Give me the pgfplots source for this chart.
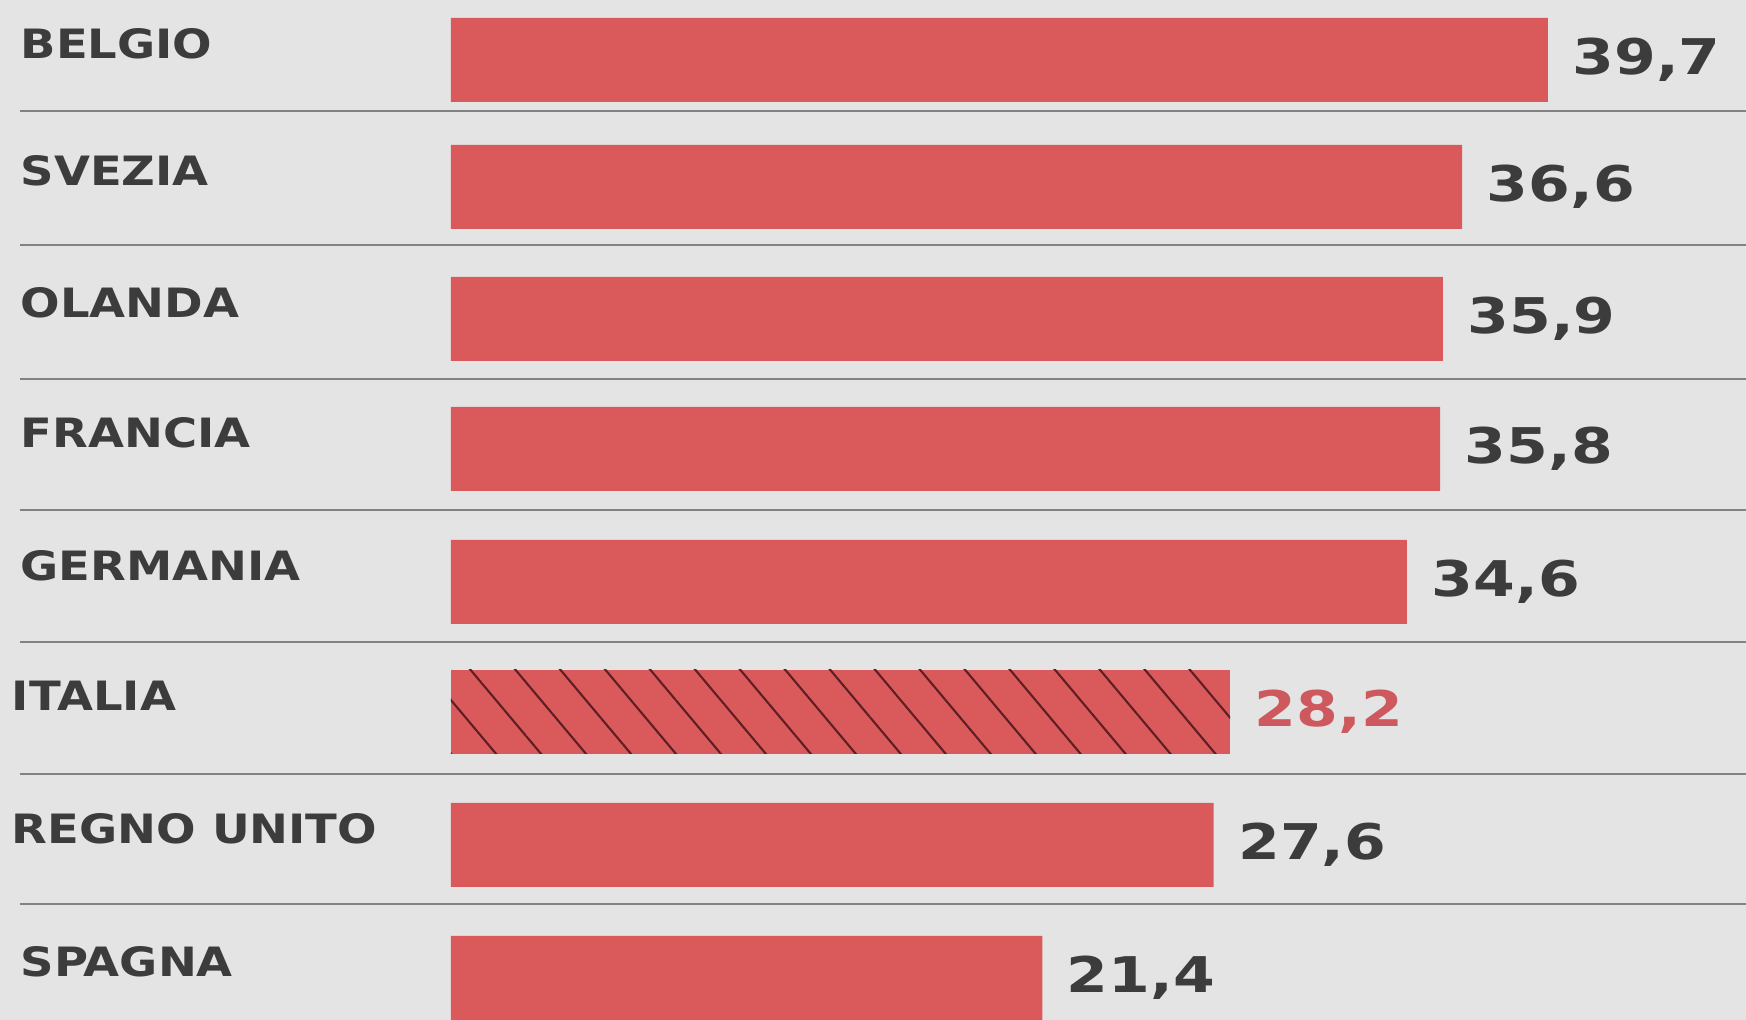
\documentclass[border=0pt]{standalone}
\usepackage{pgfplots}
\pgfplotsset{compat=1.18}
\usepackage{fontspec}
\usetikzlibrary{patterns.meta}
\newfontfamily\labfamily[FakeStretch=1.15]{DejaVu Sans}
\newfontfamily\valfamily[FakeStretch=1.22]{DejaVu Sans}
\newcommand\labfont{\fontsize{11.5pt}{12pt}\labfamily\bfseries}
\newcommand\valfont{\fontsize{14pt}{15pt}\valfamily\bfseries}
\definecolor{bgcol}{RGB}{228,228,228}
\definecolor{barcol}{RGB}{218,90,92}
\definecolor{txtcol}{RGB}{60,60,60}
\definecolor{itacol}{RGB}{205,88,94}
\definecolor{hatchcol}{RGB}{95,30,35}
\definecolor{sepcol}{RGB}{130,130,130}
\begin{document}
\begin{tikzpicture}
\begin{axis}[
  scale only axis, width=174.6mm, height=102mm,
  xmin=-16.32, xmax=46.87, ymin=0, ymax=1020, y dir=reverse,
  axis line style={draw=none}, tick style={draw=none},
  xtick=\empty, ytick=\empty,
  axis background/.style={fill=bgcol},
  /pgf/number format/.cd, fixed, fixed zerofill, precision=1, use comma, assume math mode=true,
  /pgfplots/.cd,
  point meta=x,
  nodes near coords,
  nodes near coords style={font=\valfont, text=txtcol, anchor=west, inner sep=0pt, xshift=2.4mm},
]
\pgfplotsinvokeforeach{111,245,379,510,642,774,904}{
  \draw[sepcol, line width=0.45pt] (axis cs:-15.6,#1) -- (axis cs:46.87,#1);
}
\addplot[xbar, bar shift=0pt, bar width=84, fill=barcol, draw=none] coordinates {
  (39.7,60) (36.6,187) (35.9,319) (35.8,449) (34.6,582) (27.6,845) (21.4,978)
};
\addplot[xbar, bar shift=0pt, bar width=84, fill=barcol, draw=none,
  postaction={pattern={Lines[angle=-50,distance=9.8pt,line width=0.6pt]}, pattern color=hatchcol},
  nodes near coords style={text=itacol}] coordinates {
  (28.2,712)
};
\node[anchor=west, inner sep=0pt, text=txtcol, font=\labfont] at (axis cs:-15.6,44) {BELGIO};
\node[anchor=west, inner sep=0pt, text=txtcol, font=\labfont] at (axis cs:-15.6,171) {SVEZIA};
\node[anchor=west, inner sep=0pt, text=txtcol, font=\labfont] at (axis cs:-15.6,303) {OLANDA};
\node[anchor=west, inner sep=0pt, text=txtcol, font=\labfont] at (axis cs:-15.6,433) {FRANCIA};
\node[anchor=west, inner sep=0pt, text=txtcol, font=\labfont] at (axis cs:-15.6,566) {GERMANIA};
\node[anchor=west, inner sep=0pt, text=txtcol, font=\labfont] at (axis cs:-15.92,696) {ITALIA};
\node[anchor=west, inner sep=0pt, text=txtcol, font=\labfont] at (axis cs:-15.92,829) {REGNO UNITO};
\node[anchor=west, inner sep=0pt, text=txtcol, font=\labfont] at (axis cs:-15.6,962) {SPAGNA};
\end{axis}
\end{tikzpicture}
\end{document}
